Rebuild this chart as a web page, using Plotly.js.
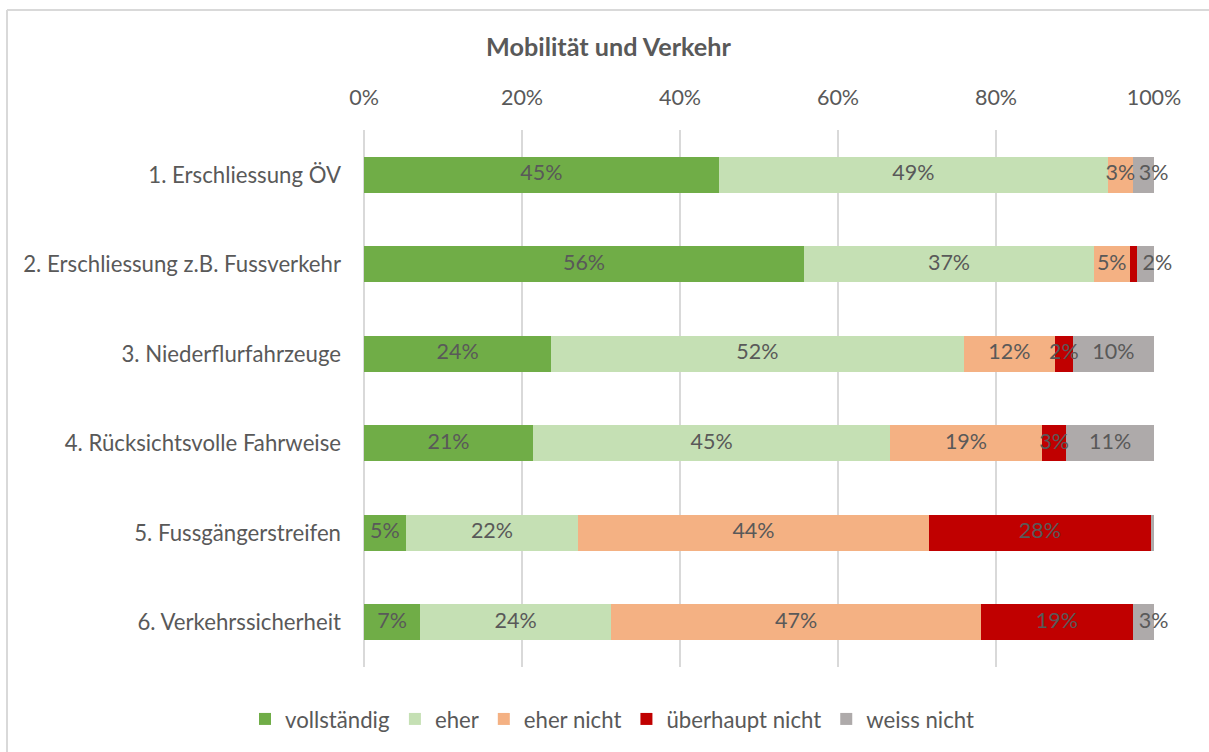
<!DOCTYPE html>
<html><head><meta charset="utf-8">
<script src="https://cdn.plot.ly/plotly-3.0.1.min.js"></script>
<style>html,body{margin:0;padding:0;background:#fff;}#chart{width:1209px;height:752px;}</style>
</head><body><div id="chart"></div>
<script>
const categories = [
  "1. Erschliessung ÖV",
  "2. Erschliessung z.B. Fussverkehr",
  "3. Niederflurfahrzeuge",
  "4. Rücksichtsvolle Fahrweise",
  "5. Fussgängerstreifen",
  "6. Verkehrssicherheit"
];
const seriesNames = ["vollständig", "eher", "eher nicht", "überhaupt nicht", "weiss nicht"];
const vollstaendig   = [44.9, 55.7, 23.7, 21.4, 5.3, 7.1];
const eher           = [49.3, 36.7, 52.2, 45.2, 21.8, 24.2];
const eherNicht      = [3.1, 4.5, 11.6, 19.2, 44.4, 46.8];
const ueberhauptNicht= [0, 0.9, 2.2, 3.1, 28.1, 19.2];
const weissNicht     = [2.7, 2.2, 10.3, 11.1, 0.4, 2.7];
const colors = ["#70AD47", "#C5E0B4", "#F4B183", "#C00000", "#AEAAAA"];
const tickVals = [0, 20, 40, 60, 80, 100];
const tickText = ["0%", "20%", "40%", "60%", "80%", "100%"];

const FONT = "Lato, 'Open Sans', sans-serif";
const FS = 21.5;   // numbers
const FT = 22.2;   // word labels
const allSeries = [vollstaendig, eher, eherNicht, ueberhauptNicht, weissNicht];

const traces = allSeries.map((vals, i) => ({
  type: "bar",
  orientation: "h",
  name: seriesNames[i],
  y: categories,
  x: vals,
  marker: {color: colors[i], line: {width: 0}},
  hoverinfo: "name+x"
}));

// data labels: centred on each segment; small last segments get the label starting at the segment
const cum = categories.map(() => 0);
allSeries.forEach((vals, i) => {
  const xs = [], ys = [], ts = [], pos = [];
  const last = i === allSeries.length - 1;
  vals.forEach((v, k) => {
    if (v >= 1.5) {
      if (last && v < 5) { xs.push(cum[k]); pos.push("middle right"); }
      else { xs.push(cum[k] + v / 2); pos.push("middle center"); }
      ys.push(categories[k]); ts.push(Math.round(v) + "%");
    }
    cum[k] += v;
  });
  traces.push({
    type: "scatter", mode: "markers+text", x: xs, y: ys, text: ts,
    marker: {size: 8, opacity: 0},
    textposition: pos, cliponaxis: false, showlegend: false, hoverinfo: "skip",
    textfont: {family: FONT, size: FS, color: "#595959"}
  });
});

const L = 364, R = 1154, T = 130, B = 667;
const px = x => (x - L) / (R - L);
const py = y => (B - y) / (B - T);

const layout = {
  width: 1209, height: 752,
  barmode: "stack",
  bargap: 0.6,
  margin: {l: L, r: 1209 - R, t: T, b: 752 - B, pad: 0},
  paper_bgcolor: "#fff", plot_bgcolor: "#fff",
  font: {family: FONT, color: "#595959", size: FS},
  title: {text: "<b>Mobilität und Verkehr</b>", x: px(608.5), xref: "paper", xanchor: "center",
          y: 1 - 47/752, yanchor: "middle",
          font: {family: FONT, size: 25.2, color: "#595959"}},
  xaxis: {side: "top", range: [0, 100], tickvals: tickVals, ticktext: tickText,
          showgrid: true, gridcolor: "#D9D9D9", gridwidth: 2, zeroline: false, showline: false,
          ticks: "", ticklabelstandoff: 20, tickfont: {family: FONT, size: FS, color: "#595959"}, fixedrange: true},
  yaxis: {autorange: "reversed", showgrid: false, zeroline: false, showline: false, ticks: "",
          ticklabelstandoff: 22, tickfont: {family: FONT, size: FT, color: "#595959"}, fixedrange: true},
  showlegend: true,
  legend: {orientation: "h", x: px(612), xref: "paper", xanchor: "center", y: py(719), yanchor: "middle",
           font: {family: FONT, size: FT, color: "#595959"}, traceorder: "normal", itemwidth: 30},
  shapes: [
    {type: "line", xref: "paper", yref: "paper", x0: px(7), x1: px(7), y0: py(10), y1: py(760), line: {color: "#D9D9D9", width: 2}},
    {type: "line", xref: "paper", yref: "paper", x0: px(7), x1: px(1215), y0: py(10), y1: py(10), line: {color: "#D9D9D9", width: 2}},
    {type: "line", xref: "paper", yref: "paper", x0: 0, x1: 0, y0: 0, y1: 1, line: {color: "#D9D9D9", width: 2}, layer: "below"}
  ]
};
Plotly.newPlot("chart", traces, layout, {displayModeBar: false});
</script></body></html>
